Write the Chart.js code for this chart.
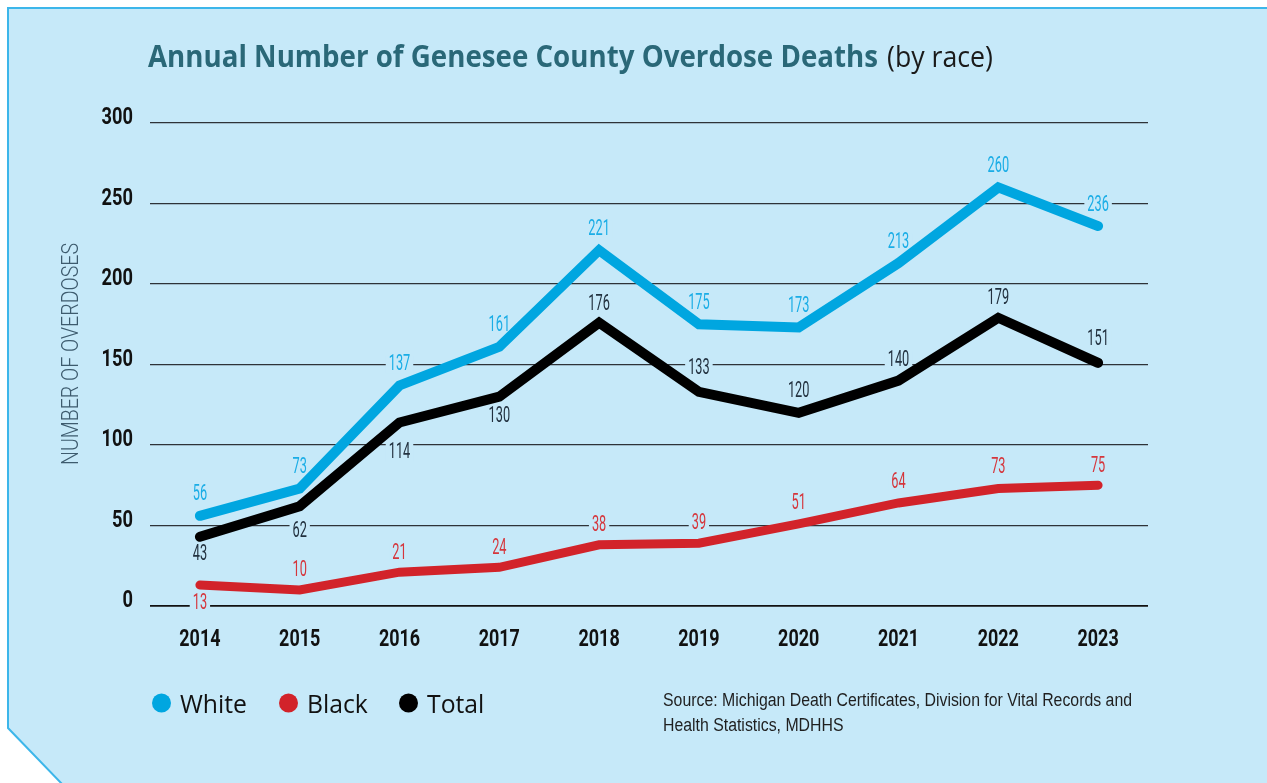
<!DOCTYPE html>
<html>
<head>
<meta charset="utf-8">
<script src="https://cdn.jsdelivr.net/npm/chart.js@4.4.1/dist/chart.umd.min.js"></script>
<style>
  html, body { margin: 0; padding: 0; background: #fff; }
  canvas { display: block; }
</style>
</head>
<body>
<canvas id="c" width="1267" height="783"></canvas>
<script>
// chart data
const years = ['2014', '2015', '2016', '2017', '2018', '2019', '2020', '2021', '2022', '2023'];
const white = [56, 73, 137, 161, 221, 175, 173, 213, 260, 236];
const black = [13, 10, 21, 24, 38, 39, 51, 64, 73, 75];
const total = [43, 62, 114, 130, 176, 133, 120, 140, 179, 151];
const yTicks = [0, 50, 100, 150, 200, 250, 300];

const BG = '#C6E9F9';

// draw text squeezed horizontally by sx
function txt(ctx, s, x, y, font, color, align, sx, base) {
  ctx.save();
  ctx.font = font;
  ctx.fillStyle = color;
  ctx.textAlign = align || 'left';
  ctx.textBaseline = base || 'middle';
  ctx.translate(x, y);
  ctx.scale(sx || 1, 1);
  ctx.fillText(s, 0, 0);
  ctx.restore();
}
function fitScale(ctx, s, font, w) {
  ctx.save();
  ctx.font = font;
  const m = ctx.measureText(s).width;
  ctx.restore();
  return w / m;
}

const decor = {
  id: 'decor',
  beforeDraw(chart) {
    const { ctx, width: W, height: H } = chart;
    ctx.save();
    ctx.fillStyle = '#fff';
    ctx.fillRect(0, 0, W, H);
    ctx.beginPath();
    ctx.moveTo(W + 4, 8);
    ctx.lineTo(8, 8);
    ctx.lineTo(8, 728);
    ctx.lineTo(63, H + 2);
    ctx.lineTo(W + 4, H + 4);
    ctx.closePath();
    ctx.fillStyle = BG;
    ctx.fill();
    ctx.strokeStyle = '#3CB6EA';
    ctx.lineWidth = 2;
    ctx.stroke();
    ctx.restore();

    // title
    const t1 = 'Annual Number of Genesee County Overdose Deaths';
    const f1 = 'bold 30px "Open Sans"';
    txt(ctx, t1, 148, 67, f1, '#2A6878', 'left', fitScale(ctx, t1, f1, 730), 'alphabetic');
    const t2 = '(by race)';
    const f2 = '30px "Open Sans"';
    txt(ctx, t2, 887, 67, f2, '#1a1a1a', 'left', fitScale(ctx, t2, f2, 106), 'alphabetic');

    // y axis title
    const yt = 'NUMBER OF OVERDOSES';
    const fy = '300 23px Roboto';
    ctx.save();
    ctx.translate(72, 354);
    ctx.rotate(-Math.PI / 2);
    txt(ctx, yt, 0, 0, fy, '#3D5B6E', 'center', fitScale(ctx, yt, fy, 222));
    ctx.restore();

    // source
    const s1 = 'Source: Michigan Death Certificates, Division for Vital Records and';
    const s2 = 'Health Statistics, MDHHS';
    const fs = '18px "Liberation Sans"';
    const ss = fitScale(ctx, s1, fs, 469);
    txt(ctx, s1, 663, 706, fs, '#1f1f1f', 'left', ss, 'alphabetic');
    txt(ctx, s2, 663, 731, fs, '#1f1f1f', 'left', ss, 'alphabetic');

    // legend
    const lf = '26px "Open Sans"';
    const ls = fitScale(ctx, 'White', lf, 67);
    const lx = [161.5, 288.5, 408.5];
    chart.data.datasets.forEach((ds, i) => {
      ctx.beginPath();
      ctx.arc(lx[i], 703, 9.5, 0, Math.PI * 2);
      ctx.fillStyle = ds.borderColor;
      ctx.fill();
      txt(ctx, ds.label, lx[i] + 18.5, 712.5, lf, '#111', 'left', ls, 'alphabetic');
    });
  },
  beforeDatasetsDraw(chart) {
    const { ctx, scales: { x, y } } = chart;
    // tick labels
    y.ticks.forEach(t => {
      txt(ctx, String(t.value), 133, y.getPixelForValue(t.value) - 5, 'bold 24px Roboto', '#111', 'right', 0.76);
    });
    chart.data.labels.forEach((l, i) => {
      txt(ctx, l, x.getPixelForValue(i), 640, 'bold 23px Roboto', '#111', 'center', 0.78);
    });
    // point value labels with background knock-out
    const lf = '22px Roboto';
    const sx = 0.58;
    chart.data.datasets.forEach((ds, di) => {
      const meta = chart.getDatasetMeta(di);
      meta.data.forEach((pt, i) => {
        const s = String(ds.data[i]);
        const dy = Array.isArray(ds.labelDy) ? ds.labelDy[i] : ds.labelDy;
        const cx = pt.x, cy = pt.y + dy;
        ctx.save();
        ctx.font = lf;
        const w = ctx.measureText(s).width * sx;
        ctx.restore();
        ctx.fillStyle = BG;
        ctx.fillRect(cx - w / 2 - 3, cy - 9, w + 6, 18);
        txt(ctx, s, cx, cy, lf, ds.labelColor, 'center', sx);
      });
    });
  }
};

new Chart(document.getElementById('c'), {
  type: 'line',
  data: {
    labels: years,
    datasets: [
      {
        label: 'White', data: white,
        borderColor: '#00A6E0', borderWidth: 10,
        labelColor: '#1AADE6', labelDy: -21,
      },
      {
        label: 'Black', data: black,
        borderColor: '#D2232A', borderWidth: 9,
        labelColor: '#D5363C', labelDy: [18, -19, -19, -19, -19, -20, -20, -20, -21, -19],
      },
      {
        label: 'Total', data: total,
        borderColor: '#000', borderWidth: 10,
        labelColor: '#22313F', labelDy: [18, 25, 30, 20, -18, -23, -21, -20, -19, -23],
      },
    ].map(d => ({
      ...d, pointRadius: 0, tension: 0, fill: false,
      borderCapStyle: 'round', borderJoinStyle: 'miter', clip: false,
    })),
  },
  options: {
    responsive: false,
    animation: false,
    events: [],
    layout: { padding: { left: 150, right: 119, top: 123, bottom: 177 } },
    plugins: { legend: { display: false }, tooltip: { enabled: false }, title: { display: false } },
    scales: {
      x: { offset: true, display: false, grid: { display: false } },
      y: {
        min: 0, max: 300,
        afterBuildTicks: s => { s.ticks = yTicks.map(v => ({ value: v })); },
        afterFit: s => { s.width = 0; },
        ticks: { display: false },
        border: { display: false },
        grid: {
          drawTicks: false,
          color: c => c.tick && c.tick.value === 0 ? '#111' : '#2E3338',
          lineWidth: c => c.tick && c.tick.value === 0 ? 1.8 : 1.3,
        },
      },
    },
  },
  plugins: [decor],
});
</script>
</body>
</html>
